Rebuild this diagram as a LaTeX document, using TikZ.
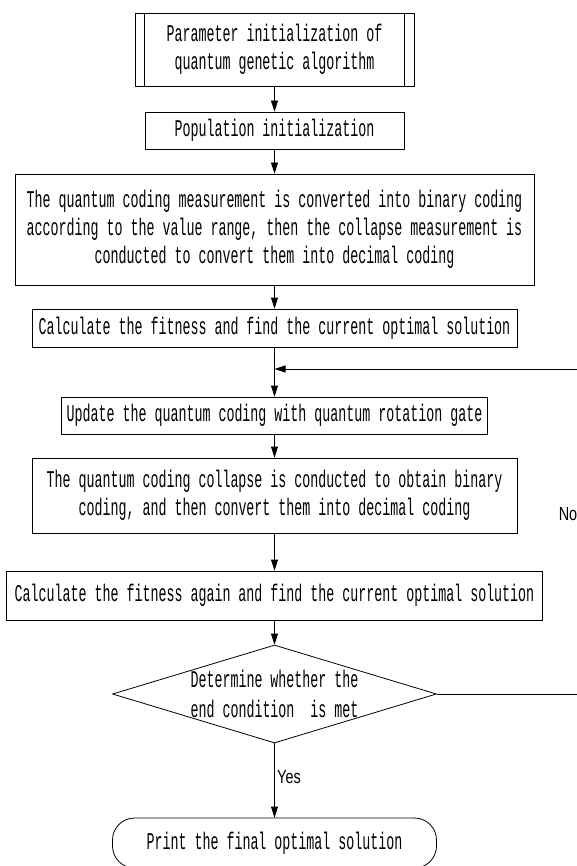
\documentclass[tikz,border=0pt]{standalone}
\usepackage{fontspec}
\usetikzlibrary{shapes.geometric, arrows.meta}
\newfontfamily\qgafont[FakeStretch=0.555]{Liberation Mono}
\newfontfamily\answerfont[FakeStretch=0.76]{Liberation Sans}
\tikzstyle{process} = [rectangle, minimum height=37pt, inner sep=0pt, text centered, align=center, draw=black, line width=0.8pt, font={\qgafont\fontsize{24pt}{28pt}\selectfont}]
\tikzstyle{decision} = [diamond, minimum width=324pt, minimum height=98pt, inner sep=0pt, draw=black, line width=0.8pt]
\tikzstyle{terminal} = [process, rounded corners=22pt, minimum width=324pt, minimum height=50pt]
\tikzstyle{textonly} = [inner sep=0pt, align=center, font={\qgafont\fontsize{24pt}{30pt}\selectfont}]
\tikzstyle{answer} = [inner sep=0pt, font={\answerfont\fontsize{19pt}{21pt}\selectfont}]
\tikzstyle{arrow} = [line width=0.8pt, -{Triangle[length=11pt,width=7pt]}]

\begin{document}
\begin{tikzpicture}[x=1pt, y=-1pt]
\useasboundingbox (0,0) rectangle (577,866);
\clip (0,0) rectangle (577,866);

\node (init) [process, minimum width=279pt, minimum height=73pt] at (274.5,49.5) {Parameter initialization of\\quantum genetic algorithm};
\node (popu) [process, below of=init, node distance=81pt, minimum width=259pt] {Population initialization};
\node (measure) [process, below of=popu, node distance=99pt, minimum width=519pt, minimum height=111pt] {The quantum coding measurement is converted into binary coding\\according to the value range, then the collapse measurement is\\conducted to convert them into decimal coding};
\node (fit) [process, below of=measure, node distance=98.5pt, minimum width=485pt, minimum height=38pt] {Calculate the fitness and find the current optimal solution};
\node (update) [process, below of=fit, node distance=87.5pt, minimum width=426pt] {Update the quantum coding with quantum rotation gate};
\node (collapse) [process, below of=update, node distance=80pt, minimum width=485pt, minimum height=75pt] {The quantum coding collapse is conducted to obtain binary\\coding, and then convert them into decimal coding};
\node (refit) [process, below of=collapse, node distance=100pt, minimum width=536pt, minimum height=49pt] {Calculate the fitness again and find the current optimal solution};
\node (cond) [decision, below of=refit, node distance=98.5pt] {};
\node (condtext) [textonly] at (cond) {Determine whether the\\end condition\ \ is met};
\node (print) [terminal, below of=cond, node distance=149pt] {Print the final optimal solution};

% double sides of the first box
\draw [line width=0.8pt] ([xshift=10pt]init.north west) -- ([xshift=10pt]init.south west);
\draw [line width=0.8pt] ([xshift=-10pt]init.north east) -- ([xshift=-10pt]init.south east);

\coordinate (join) at (274.5,369);
\coordinate (back) at (592,369);

\draw [arrow] (init) -- (popu);
\draw [arrow] (popu) -- (measure);
\draw [arrow] (measure) -- (fit);
\draw [arrow] (fit) -- (update);
\draw [arrow] (update) -- (collapse);
\draw [arrow] (collapse) -- (refit);
\draw [arrow] (refit) -- (cond);
\draw [arrow] (cond) -- (print);
\draw [arrow] (cond.east) -| (back) -- (join);

\node (no) [answer] at (568,514) {No};
\node (yes) [answer, anchor=west] at (277,777) {Yes};

\end{tikzpicture}
\end{document}
